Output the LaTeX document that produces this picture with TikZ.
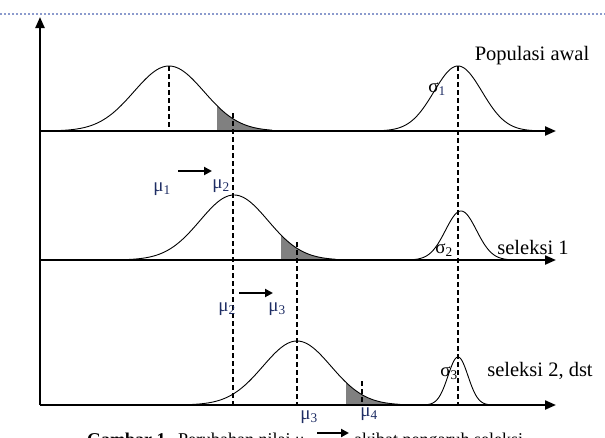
\documentclass[tikz,border=0pt]{standalone}
\usepackage{fontspec}
\setmainfont{Liberation Serif}
\usetikzlibrary{arrows.meta}
\definecolor{mublue}{RGB}{30,45,100}
\definecolor{dotline}{RGB}{140,155,205}
\begin{document}
\begin{tikzpicture}[x=1pt,y=-1pt,
  axisline/.style={line width=2.2pt,-{Triangle[length=11pt,width=9pt]}},
  bell/.style={line width=0.9pt},
  dline/.style={line width=1.6pt,dash pattern=on 5pt off 3pt},
  tail/.style={fill=black!50},
  shiftarrow/.style={line width=2.2pt,-{Triangle[length=8pt,width=8pt]}},
  lbl/.style={font=\fontsize{20.5}{22}\selectfont,inner sep=0pt},
  greek/.style={font=\fontsize{19}{21}\selectfont,inner sep=0pt,text=mublue},
  captext/.style={font=\fontsize{18}{20}\selectfont,inner sep=0pt,anchor=base west}]
\useasboundingbox (0,0) rectangle (605,437);
\fill[white] (0,0) rectangle (605,437);
% top decorative dotted rule
\coordinate (tl) at (0,14); \coordinate (tr) at (605,14);
\draw[dotline,line width=1.8pt,dash pattern=on 2pt off 2pt] (tl) -- (tr);

% axes
\coordinate (o) at (40,405); \coordinate (ytop) at (40,17);
\coordinate (a1l) at (40,131); \coordinate (a1r) at (556,131);
\coordinate (a2l) at (40,260); \coordinate (a2r) at (556,260);
\coordinate (a3l) at (40,405); \coordinate (a3r) at (556,405);

% ---- shaded tails ----
\fill[tail] (217,131) -- plot[domain=217:272,samples=40] (\x,{131-65*exp(-0.5*((\x-169)/35)^2)}) -- (272,131) -- cycle;
\fill[tail] (281,260) -- plot[domain=281:336,samples=40] (\x,{260-65*exp(-0.5*((\x-234)/34)^2)}) -- (336,260) -- cycle;
\fill[tail] (346,405) -- plot[domain=346:400,samples=40] (\x,{405-64*exp(-0.5*((\x-297)/34)^2)}) -- (400,405) -- cycle;

% ---- bell curves ----
\draw[bell] plot[domain=58:272,samples=120] (\x,{131-65*exp(-0.5*((\x-169)/35)^2)});
\draw[bell] plot[domain=381:535,samples=100] (\x,{131-65*exp(-0.5*((\x-458)/24)^2)});
\draw[bell] plot[domain=124:336,samples=120] (\x,{260-65*exp(-0.5*((\x-234)/34)^2)});
\draw[bell] plot[domain=413:509,samples=100] (\x,{260-49*exp(-0.5*((\x-461)/15.5)^2)});
\draw[bell] plot[domain=189:400,samples=120] (\x,{405-64*exp(-0.5*((\x-297)/34)^2)});
\draw[bell] plot[domain=427:489,samples=100] (\x,{405-48*exp(-0.5*((\x-458)/10)^2)});

% ---- dashed lines ----
\coordinate (d1t) at (169,66);  \coordinate (d1b) at (169,131);
\coordinate (d2t) at (233,113); \coordinate (d2b) at (233,405);
\coordinate (d3t) at (297,242); \coordinate (d3b) at (297,405);
\coordinate (d4t) at (362,381); \coordinate (d4b) at (362,405);
\coordinate (d5t) at (458,66);  \coordinate (d5b) at (458,405);
\draw[dline] (d1t) -- (d1b);
\draw[dline] (d2t) -- (d2b);
\draw[dline] (d3t) -- (d3b);
\draw[dline] (d4t) -- (d4b);
\draw[dline] (d5t) -- (d5b);

% axes on top
\draw[axisline] (o) -- (ytop);
\draw[axisline] (a1l) -- (a1r);
\draw[axisline] (a2l) -- (a2r);
\draw[axisline] (a3l) -- (a3r);

% ---- labels ----
\node[lbl] (pop) at (532,56) {Populasi awal};
\node[lbl] (sel1) at (533,247) {seleksi 1};
\node[lbl] (sel2) at (540,371) {seleksi 2, dst};

\node[greek,text=black] (s1) at (437,89) {σ\textsubscript{\textcolor{mublue}{1}}};
\node[greek,text=black] (s2) at (444,250) {σ\textsubscript{2}};
\node[greek,text=black] (s3) at (449,373) {σ\textsubscript{3}};

\node[greek] (m1) at (162,189) {μ\textsubscript{1}};
\node[greek] (m2) at (221,186) {μ\textsubscript{2}};
\node[greek] (m2b) at (227,309) {μ\textsubscript{2}};
\node[greek] (m3) at (277,309) {μ\textsubscript{3}};
\node[greek] (m3b) at (309,417) {μ\textsubscript{3}};
\node[greek] (m4) at (369,414) {μ\textsubscript{4}};

% shift arrows
\coordinate (f1a) at (178,171); \coordinate (f1b) at (212,171);
\coordinate (f2a) at (239,293); \coordinate (f2b) at (273,293);
\draw[shiftarrow] (f1a) -- (f1b);
\draw[shiftarrow] (f2a) -- (f2b);

% caption (cut off at the bottom edge, as in the reference)
\node[captext] (capA) at (87,445) {\bfseries Gambar 1.};
\node[captext] (capB) at (178,445) {Perubahan nilai μ};
\coordinate (f3a) at (317,433); \coordinate (f3b) at (349,433);
\draw[shiftarrow] (f3a) -- (f3b);
\node[captext] (capC) at (354,445) {akibat pengaruh seleksi};
\end{tikzpicture}
\end{document}
